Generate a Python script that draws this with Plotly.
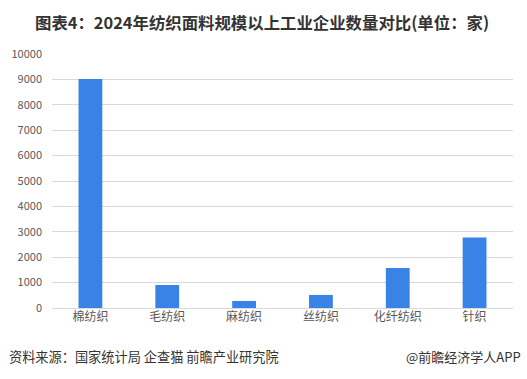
import plotly.graph_objects as go

categories = ["棉纺织", "毛纺织", "麻纺织", "丝纺织", "化纤纺织", "针织"]
values = [9020, 905, 277, 514, 1570, 2775]
y_ticks = [0, 1000, 2000, 3000, 4000, 5000, 6000, 7000, 8000, 9000, 10000]
y_tick_labels = [str(v) for v in y_ticks]

title_text = "图表4：2024年纺织面料规模以上工业企业数量对比(单位：家)"
source_text = "资料来源：国家统计局 企查猫 前瞻产业研究院"
credit_text = "@前瞻经济学人APP"

font_cjk = "Noto Sans CJK SC"

W, H = 527, 379
ML, MR, MT, MB = 52, 14, 54, 71

fig = go.Figure()
fig.add_trace(go.Bar(
    x=categories, y=values,
    marker=dict(color="#3a83e6", line=dict(width=0)),
    width=0.31,
))

pw = W - ML - MR
ph = H - MT - MB
def px_to_paper(xp, yp):
    return (xp - ML) / pw, (H - MB - yp) / ph

anns = []
tx, ty = px_to_paper(262, 22)
anns.append(dict(text="<b>" + title_text + "</b>", x=tx, y=ty, xref="paper", yref="paper",
                 showarrow=False, xanchor="center", yanchor="middle",
                 font=dict(size=16.4, color="#333333", family=font_cjk)))
sx, sy = px_to_paper(7, 356)
anns.append(dict(text=source_text, x=sx, y=sy, xref="paper", yref="paper",
                 showarrow=False, xanchor="left", yanchor="middle",
                 font=dict(size=13.2, color="#333333", family=font_cjk)))
cx, cy = px_to_paper(523, 356)
anns.append(dict(text=credit_text, x=cx, y=cy, xref="paper", yref="paper",
                 showarrow=False, xanchor="right", yanchor="middle",
                 font=dict(size=13, color="#333333", family=font_cjk)))

fig.update_layout(
    width=W, height=H,
    margin=dict(l=ML, r=MR, t=MT, b=MB, autoexpand=False),
    paper_bgcolor="white", plot_bgcolor="white",
    showlegend=False,
    font=dict(family=font_cjk, color="#595959", size=11),
    xaxis=dict(
        showgrid=False, showline=False, ticks="",
        tickfont=dict(size=12, color="#595959", family=font_cjk),
    ),
    yaxis=dict(
        range=[0, 10000], tickvals=y_ticks, ticktext=y_tick_labels,
        showgrid=True, gridcolor="#d9d9d9", gridwidth=1,
        zeroline=True, zerolinecolor="#d9d9d9", zerolinewidth=1,
        showline=False, ticks="",
        tickfont=dict(size=11, color="#595959", family=font_cjk),
        ticklabelstandoff=9,
    ),
    annotations=anns,
)

fig.write_html("out.html", config={"displayModeBar": False},
               post_script="document.body.style.margin='0px';")
